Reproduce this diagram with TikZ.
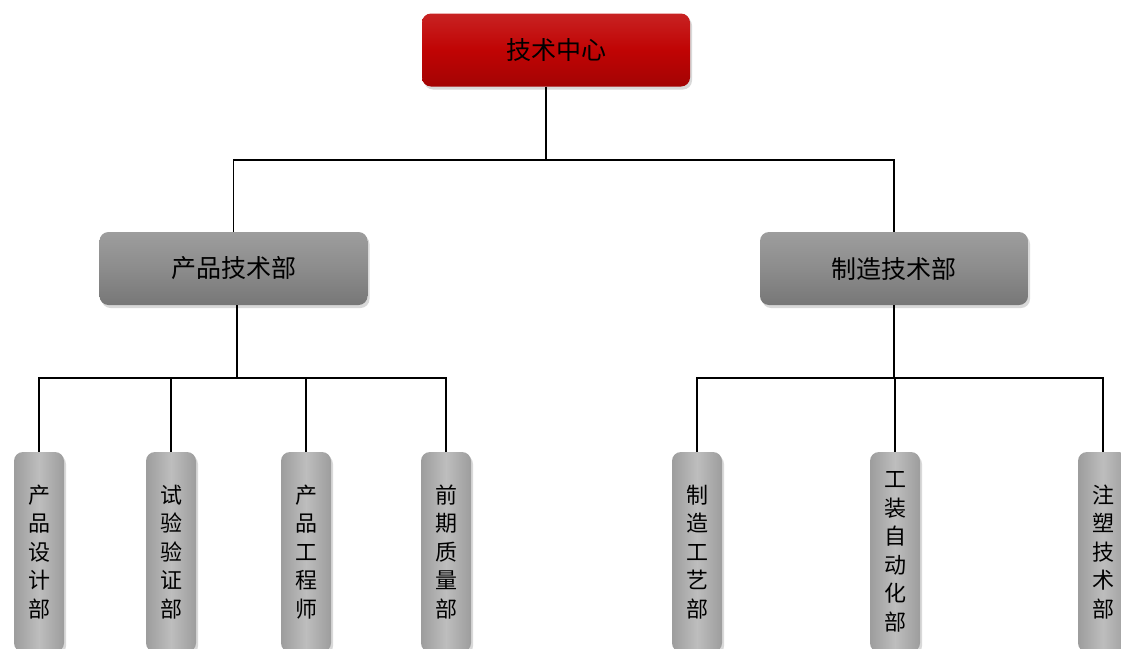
\documentclass[tikz,border=0pt]{standalone}
\usepackage{fontspec}
\setmainfont{Noto Sans CJK SC}
\usetikzlibrary{shadows}
\definecolor{hred}{RGB}{192,4,4}
\definecolor{mgray}{RGB}{140,140,140}
\definecolor{cgray}{RGB}{178,178,178}
\tikzset{box/.style = {rounded corners=9pt, drop shadow={opacity=0.3, shadow xshift=2pt, shadow yshift=-3pt}},
  head/.style = {box, minimum width=268pt, minimum height=73pt, top color=hred!88!white, bottom color=hred!85!black, middle color=hred, font=\fontsize{25}{25}\selectfont},
  dept/.style = {box, minimum width=268pt, minimum height=73pt, top color=mgray!85!white, bottom color=mgray!85!black, middle color=mgray, font=\fontsize{25}{25}\selectfont},
  unit/.style = {box, minimum width=50pt, minimum height=200pt, text width=30pt, align=center, left color=cgray!88!black, right color=cgray!88!black, middle color=cgray!85!white, font=\fontsize{22}{28.5}\selectfont},
  link/.style = {line width=1.3pt, black}}

\begin{document}
\begin{tikzpicture}[x=1pt, y=-1pt]
      \useasboundingbox (0,0) rectangle (1121,648);
      \clip (0,0) rectangle (1121,648);
      \node [head] (center) at (556,50) {技术中心};
      \node [dept] (prod) at (233.5,268.5) {产品技术部};
      \node [dept] (mfg) at (894,268.5) {制造技术部};
      % product side
      \node [unit] (design) at (39,552) {产\\品\\设\\计\\部};
      \node [unit] (test) at (171,552) {试\\验\\验\\证\\部};
      \node [unit] (eng) at (306,552) {产\\品\\工\\程\\师};
      \node [unit] (quality) at (446,552) {前\\期\\质\\量\\部};
      % manufacturing side
      \node [unit] (process) at (697,552) {制\\造\\工\\艺\\部};
      \node [unit] (tooling) at (895,552) {工\\装\\自\\动\\化\\部};
      \node [unit] (mould) at (1103,552) {注\\塑\\技\\术\\部};
      \coordinate (hub) at (546,160);
      \coordinate (lbus) at (237,378);
      \coordinate (rbus) at (894,378);
      \draw [link] ([xshift=-10pt]center.south) -- (hub);
      \draw [link] (hub) -| (prod.north);
      \draw [link] (hub) -| (mfg.north);
      \draw [link] ([xshift=3.5pt]prod.south) -- (lbus);
      \draw [link] (mfg.south) -- (rbus);
      \foreach \n in {design, test, eng, quality}
        \draw [link] (lbus) -| (\n.north);
      \foreach \n in {process, tooling, mould}
        \draw [link] (rbus) -| (\n.north);
    \end{tikzpicture}
\end{document}
